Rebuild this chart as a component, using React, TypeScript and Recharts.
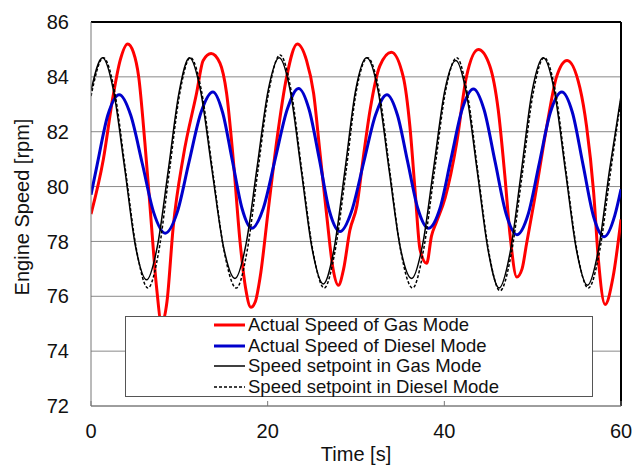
import React from 'react';
import { LineChart, Line, XAxis, YAxis, CartesianGrid, ReferenceLine } from 'recharts';

// Values (time in s, speed in rpm)
const gasTime = [
  0, 1.4, 2.5, 3.3, 4.15, 4.8, 5.4, 6.1, 6.7, 7.4,
  8.0, 8.6, 9.3, 10.45, 11.95, 12.7, 13.6, 14.6, 15.35, 16.1,
  16.9, 17.5, 18.1, 18.6, 19.15, 20.05, 21.0, 22.15, 23.35, 24.4,
  25.2, 25.9, 26.7, 27.4, 28.0, 28.6, 29.3, 30.1, 30.8, 31.6,
  32.7, 34.0, 35.35, 36.1, 36.7, 37.25, 38.0, 38.55, 39.1, 40.1,
  41.4, 42.5, 43.85, 45.15, 46.1, 46.85, 47.45, 48.2, 48.8, 49.3,
  50.25, 51.6, 52.7, 53.9, 55.35, 56.1, 56.9, 57.45, 58.2, 59.1,
  60,
];
const gasSpeed = [
  79.0, 81.0, 83.3, 84.6, 85.2, 84.9, 84.0, 81.6, 79.2, 76.4,
  75.0, 75.8, 78.5, 81.1, 83.4, 84.6, 84.85, 84.5, 83.4, 81.0,
  77.9, 76.3, 75.6, 75.8, 76.7, 79.1, 81.6, 84.0, 85.2, 84.6,
  83.4, 81.3, 78.9, 77.0, 76.4, 77.0, 78.4, 79.3, 81.0, 82.8,
  84.4, 84.9, 84.0, 82.2, 79.8, 77.7, 77.2, 78.2, 78.7, 79.6,
  81.6, 84.0, 85.0, 84.4, 82.8, 80.4, 78.2, 76.7, 77.0, 77.9,
  79.6, 82.2, 84.0, 84.6, 83.6, 82.2, 79.8, 77.3, 75.7, 76.7,
  78.8,
];

const dieselTime = [
  0, 0.7, 1.9, 3.2, 4.5, 5.8, 7.1, 8.4, 9.75, 11.1,
  12.45, 13.8, 14.9, 16.0, 17.1, 18.2, 19.5, 20.85, 22.2, 23.5,
  24.7, 25.85, 27.0, 28.2, 29.5, 30.85, 32.2, 33.5, 34.7, 35.85,
  37.0, 38.2, 39.5, 40.75, 42.0, 43.3, 44.5, 45.75, 47.0, 48.2,
  49.5, 50.75, 52.0, 53.3, 54.5, 55.7, 56.9, 58.1, 59.3, 60,
];
const dieselSpeed = [
  79.7, 80.8, 82.6, 83.35, 82.6, 80.85, 79.05, 78.3, 79.05, 80.9,
  82.7, 83.45, 82.7, 80.95, 79.2, 78.48, 79.2, 81.0, 82.8, 83.58,
  82.8, 81.0, 79.1, 78.36, 79.1, 80.85, 82.6, 83.35, 82.6, 80.9,
  79.2, 78.48, 79.2, 81.0, 82.8, 83.56, 82.8, 80.9, 79.0, 78.24,
  79.0, 80.85, 82.7, 83.45, 82.7, 80.8, 78.9, 78.17, 78.95, 79.9,
];

const spGasTime = [
  0, 1.3, 2.55, 3.8, 5.05, 6.3, 7.5, 8.75, 9.95, 11.15,
  12.4, 13.7, 15.0, 16.3, 17.55, 18.8, 20.05, 21.3, 22.55, 23.8,
  25.05, 26.3, 27.5, 28.75, 29.95, 31.2, 32.5, 33.75, 35.0, 36.3,
  37.55, 38.8, 40.05, 41.3, 42.5, 43.75, 45.0, 46.2, 47.45, 48.7,
  49.95, 51.2, 52.45, 53.7, 54.95, 56.2, 57.45, 58.7, 60,
];
const spGasSpeed = [
  83.5, 84.7, 83.5, 80.7, 77.8, 76.6, 77.8, 80.6, 83.4, 84.7,
  83.5, 80.6, 77.8, 76.65, 77.9, 80.7, 83.5, 84.7, 83.5, 80.6,
  77.7, 76.45, 77.7, 80.6, 83.5, 84.7, 83.5, 80.6, 77.8, 76.65,
  77.9, 80.7, 83.5, 84.6, 83.4, 80.5, 77.6, 76.3, 77.6, 80.5,
  83.5, 84.7, 83.5, 80.6, 77.7, 76.4, 77.7, 80.6, 83.3,
];

const spDieselTime = [
  0, 1.4, 2.65, 3.9, 5.15, 6.45, 7.65, 8.85, 10.05, 11.25,
  12.5, 13.8, 15.1, 16.45, 17.7, 18.9, 20.15, 21.4, 22.65, 23.9,
  25.15, 26.4, 27.6, 28.85, 30.05, 31.3, 32.6, 33.85, 35.1, 36.4,
  37.65, 38.9, 40.15, 41.4, 42.6, 43.85, 45.1, 46.3, 47.55, 48.8,
  50.05, 51.3, 52.55, 53.8, 55.05, 56.3, 57.55, 58.8, 60,
];
const spDieselSpeed = [
  83.3, 84.7, 83.5, 80.6, 77.7, 76.3, 77.6, 80.5, 83.4, 84.7,
  83.5, 80.5, 77.6, 76.3, 77.7, 80.6, 83.5, 84.8, 83.5, 80.5,
  77.6, 76.3, 77.6, 80.5, 83.5, 84.7, 83.5, 80.5, 77.6, 76.3,
  77.7, 80.6, 83.5, 84.7, 83.4, 80.4, 77.5, 76.2, 77.5, 80.4,
  83.4, 84.7, 83.5, 80.5, 77.6, 76.3, 77.6, 80.5, 83.2,
];

const xTicks = [0, 20, 40, 60];
const yTicks = [72, 74, 76, 78, 80, 82, 84, 86];

const toPoints = (ts: number[], vs: number[]) => ts.map((t, i) => ({ t, v: vs[i] }));

const series = [
  { name: 'Actual Speed of Gas Mode', data: toPoints(gasTime, gasSpeed), color: '#ff0000', width: 3, dash: undefined },
  { name: 'Actual Speed of Diesel Mode', data: toPoints(dieselTime, dieselSpeed), color: '#0000cc', width: 3, dash: undefined },
  { name: 'Speed setpoint in Gas Mode', data: toPoints(spGasTime, spGasSpeed), color: '#000000', width: 1.5, dash: undefined },
  { name: 'Speed setpoint in Diesel Mode', data: toPoints(spDieselTime, spDieselSpeed), color: '#000000', width: 1.5, dash: '3 2' },
];

const FONT = '"Liberation Sans", Arial, sans-serif';

const YLabel = () => (
  <text
    x={22}
    y={207}
    transform="rotate(-90 22 207)"
    textAnchor="middle"
    dominantBaseline="central"
    fontSize={20}
    fontFamily={FONT}
    fill="#111"
  >
    Engine Speed [rpm]
  </text>
);

const LegendBox = () => (
  <div
    style={{
      position: 'absolute',
      left: 125,
      top: 316,
      width: 468,
      height: 81,
      boxSizing: 'border-box',
      border: '1.5px solid #555',
      background: '#fff',
      fontFamily: FONT,
      fontSize: 18.5,
      color: '#111',
    }}
  >
    {series.map((s, i) => (
      <div
        key={s.name}
        style={{
          position: 'absolute',
          left: 88,
          top: i * 20.7 - 2,
          height: 20,
          lineHeight: '20px',
          display: 'flex',
          alignItems: 'center',
          whiteSpace: 'nowrap',
        }}
      >
        <svg width={31} height={6} style={{ marginRight: 3 }}>
          <line x1={0} y1={3} x2={31} y2={3} stroke={s.color} strokeWidth={s.width} strokeDasharray={s.dash} />
        </svg>
        <span>{s.name}</span>
      </div>
    ))}
  </div>
);

export default function App() {
  return (
    <div style={{ position: 'absolute', left: 0, top: 0, width: 634, height: 466, background: '#fff' }}>
      <LineChart width={634} height={466} margin={{ top: 22, right: 13, bottom: 0, left: 0 }}>
        <CartesianGrid horizontal vertical={false} stroke="#8a8a8a" />
        <XAxis
          type="number"
          dataKey="t"
          domain={[0, 60]}
          ticks={xTicks}
          height={60}
          allowDataOverflow
          stroke="#777"
          tickSize={-5}
          tickMargin={23}
          tick={{ fontSize: 20, fontFamily: FONT, fill: '#111' }}
          label={{ value: 'Time [s]', position: 'insideBottom', offset: 5, fontSize: 20, fontFamily: FONT, fill: '#111' }}
        />
        <YAxis
          type="number"
          domain={[72, 86]}
          ticks={yTicks}
          width={91}
          allowDataOverflow
          stroke="#777"
          tickLine={false}
          tickMargin={16}
          tick={{ fontSize: 20, fontFamily: FONT, fill: '#111' }}
          label={{ content: () => <YLabel /> }}
        />
        <ReferenceLine y={86} stroke="#000" strokeWidth={2} />
        <ReferenceLine x={60} stroke="#000" strokeWidth={2} />
        {series.map((s) => (
          <Line
            key={s.name}
            data={s.data}
            dataKey="v"
            name={s.name}
            type="monotone"
            stroke={s.color}
            strokeWidth={s.width}
            strokeDasharray={s.dash}
            dot={false}
            activeDot={false}
            isAnimationActive={false}
          />
        ))}
      </LineChart>
      <LegendBox />
    </div>
  );
}
